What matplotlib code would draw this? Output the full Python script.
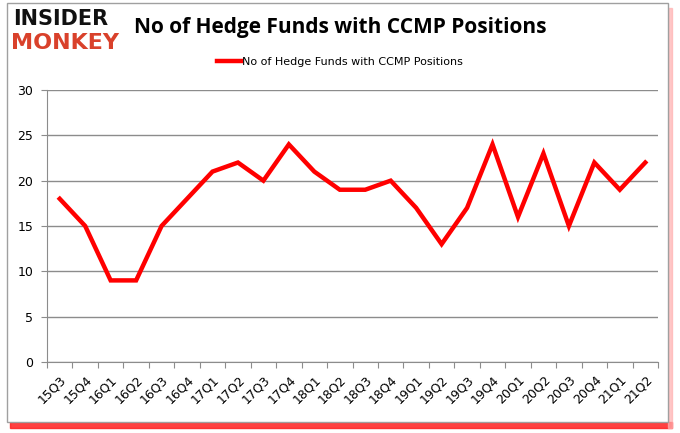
import matplotlib.pyplot as plt
from matplotlib.patches import Rectangle

# Quarter labels and hedge fund counts
quarters = ["15Q3", "15Q4", "16Q1", "16Q2", "16Q3", "16Q4",
            "17Q1", "17Q2", "17Q3", "17Q4", "18Q1", "18Q2",
            "18Q3", "18Q4", "19Q1", "19Q2", "19Q3", "19Q4",
            "20Q1", "20Q2", "20Q3", "20Q4", "21Q1", "21Q2"]
funds = [18, 15, 9, 9, 15, 18, 21, 22, 20, 24, 21, 19,
         19, 20, 17, 13, 17, 24, 16, 23, 15, 22, 19, 22]
y_ticks = [0, 5, 10, 15, 20, 25, 30]

series_name = "No of Hedge Funds with CCMP Positions"

fig = plt.figure(figsize=(6.8, 4.33), dpi=100)
W, H = 680, 433

# Frame with red shadow at bottom/right
fig.patches.append(Rectangle((10 / W, 1 - 428 / H), 662 / W, 6 / H,
                             transform=fig.transFigure, color="#ff2020",
                             alpha=0.85, zorder=0))
fig.patches.append(Rectangle((668 / W, 1 - 428 / H), 4 / W, 420 / H,
                             transform=fig.transFigure, color="#ffb0b0",
                             alpha=0.7, zorder=0))
fig.patches.append(Rectangle((7 / W, 1 - 422 / H), 661 / W, 419 / H,
                             transform=fig.transFigure, facecolor="white",
                             edgecolor="#a0a0a0", lw=1, zorder=1))

ax = fig.add_axes([47 / W, 1 - 362 / H, 611 / W, 272 / H])
ax.set_zorder(2)
x = list(range(len(quarters)))
ax.plot(x, funds, color="#ff0000", lw=3.2, solid_joinstyle="miter",
        label=series_name, zorder=3)

ax.set_xlim(-0.5, len(quarters) - 0.5)
ax.set_ylim(0, 30)
ax.set_yticks(y_ticks)
ax.set_yticklabels([str(v) for v in y_ticks], fontsize=9)
ax.yaxis.grid(True, color="#8c8c8c", lw=1)
ax.set_axisbelow(True)

ax.set_xticks([i - 0.5 for i in range(len(quarters) + 1)])
ax.set_xticklabels([])
ax.set_xticks(x, minor=True)
ax.set_xticklabels(quarters, minor=True, rotation=45, ha="right",
                   rotation_mode="anchor", fontsize=9)
ax.tick_params(axis="x", which="major", length=4, color="#8c8c8c")
ax.tick_params(axis="x", which="minor", length=0, pad=8)
ax.tick_params(axis="y", length=4, color="#8c8c8c", pad=6)

for side in ["top", "right"]:
    ax.spines[side].set_visible(False)
for side in ["left", "bottom"]:
    ax.spines[side].set_color("#8c8c8c")

fig.text(340 / W, 1 - 28 / H, series_name, ha="center", va="center",
         fontsize=15, fontweight="bold", family="Open Sans")
ax.legend(loc="center", bbox_to_anchor=(340 / W, 1 - 62 / H),
          bbox_transform=fig.transFigure, frameon=False, fontsize=8,
          handlelength=2.2, handletextpad=0.1)

# Logo
fig.text(13 / W, 1 - 19 / H, "INSIDER", ha="left", va="center",
         fontsize=15, fontweight="heavy", family="DejaVu Sans", color="#111111")
fig.text(11 / W, 1 - 43 / H, "MONKEY", ha="left", va="center",
         fontsize=16, fontweight="heavy", family="DejaVu Sans", color="#d9412b")

fig.savefig("out.png", dpi=100)
